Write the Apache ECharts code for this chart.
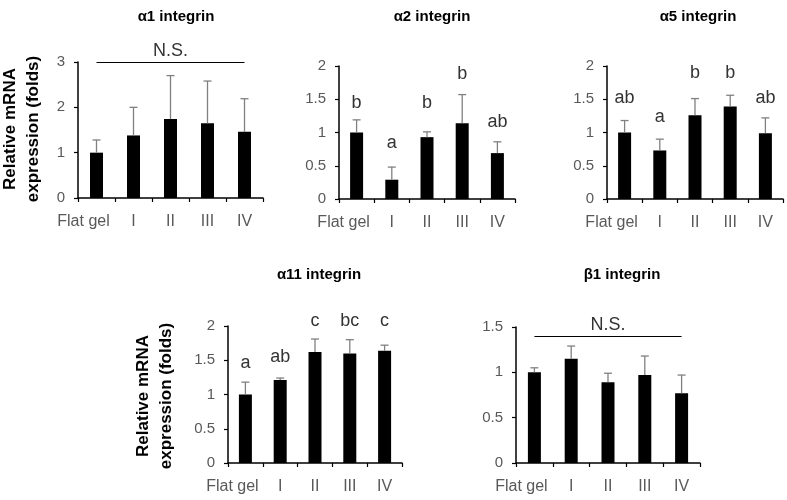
<!DOCTYPE html>
<html><head><meta charset="utf-8">
<script src="https://cdn.jsdelivr.net/npm/echarts@6/dist/echarts.min.js"></script>
<style>html,body{margin:0;padding:0;background:#fff}#c{width:787px;height:500px}</style>
</head><body><div id="c"></div>
<script>
var categories = ['Flat gel', 'I', 'II', 'III', 'IV'];
var titles = ['α1 integrin', 'α2 integrin', 'α5 integrin', 'α11 integrin', 'β1 integrin'];
var a1Mean = [1.0, 1.38, 1.74, 1.65, 1.46];
var a1Err  = [1.28, 2.0, 2.7, 2.58, 2.19];
var a2Mean = [1.0, 0.29, 0.93, 1.14, 0.69];
var a2Err  = [1.19, 0.48, 1.01, 1.57, 0.86];
var a2Letters = ['b', 'a', 'b', 'b', 'ab'];
var a2LetterY = [1.44, 0.84, 1.44, 1.88, 1.16];
var a5Mean = [1.0, 0.73, 1.26, 1.39, 0.99];
var a5Err  = [1.18, 0.9, 1.51, 1.56, 1.22];
var a5Letters = ['ab', 'a', 'b', 'b', 'ab'];
var a5LetterY = [1.52, 1.23, 1.89, 1.89, 1.52];
var a11Mean = [1.0, 1.21, 1.62, 1.6, 1.64];
var a11Err  = [1.18, 1.24, 1.81, 1.8, 1.72];
var a11Letters = ['a', 'ab', 'c', 'bc', 'c'];
var a11LetterY = [1.46, 1.55, 2.07, 2.07, 2.07];
var b1Mean = [1.0, 1.15, 0.89, 0.97, 0.77];
var b1Err  = [1.05, 1.29, 0.99, 1.18, 0.97];
var yMax = [3, 2, 2, 2, 1.5];
var yInterval = [1, 0.5, 0.5, 0.5, 0.5];
var nsLevel = [3, null, null, null, 1.4];

var means = [a1Mean, a2Mean, a5Mean, a11Mean, b1Mean];
var errs = [a1Err, a2Err, a5Err, a11Err, b1Err];
var letters = [null, a2Letters, a5Letters, a11Letters, null];
var letterY = [null, a2LetterY, a5LetterY, a11LetterY, null];

var grids = [
  {left: 78, top: 62, width: 185, height: 136},
  {left: 339, top: 66, width: 176, height: 133},
  {left: 607, top: 66, width: 176, height: 133},
  {left: 228, top: 326, width: 174, height: 137},
  {left: 516, top: 327, width: 184, height: 136}
];
var titlePos = [[171, 4], [427, 4], [693, 4], [314, 262], [617, 262]];
var FONT = '"Liberation Sans", Arial, sans-serif';
var tickColor = '#595959';

var catData = categories.map(function (c, k) {
  return k === 0 ? {value: c, textStyle: {padding: [0, 26, 0, 0]}} : c;
});

var option = {
  animation: false,
  title: titles.map(function (t, i) {
    return {text: t, left: titlePos[i][0], top: titlePos[i][1], textAlign: 'center',
      textStyle: {fontFamily: FONT, fontSize: 15, fontWeight: 'bold', color: '#000'}};
  }),
  grid: grids,
  xAxis: grids.map(function (g, i) {
    return {type: 'category', gridIndex: i, data: catData,
      axisLine: {lineStyle: {color: '#000', width: 1.5}},
      axisTick: {show: true, length: 4, lineStyle: {color: '#000', width: 1.2}},
      axisLabel: {interval: 0, color: tickColor, fontFamily: FONT, fontSize: 16, margin: 16}};
  }),
  yAxis: grids.map(function (g, i) {
    return {type: 'value', gridIndex: i, min: 0, max: yMax[i], interval: yInterval[i],
      splitLine: {show: false},
      axisLine: {show: true, lineStyle: {color: '#000', width: 1.5}},
      axisTick: {show: true, length: 4, lineStyle: {color: '#000', width: 1.2}},
      axisLabel: {color: tickColor, fontFamily: FONT, fontSize: 15, margin: 13}};
  }),
  graphic: [
    {type: 'text', x: 21.5, y: 129, rotation: Math.PI / 2,
      style: {text: 'Relative mRNA\nexpression (folds)', font: 'bold 17px ' + FONT, fill: '#000',
        align: 'center', verticalAlign: 'middle', lineHeight: 23}},
    {type: 'text', x: 154.5, y: 396, rotation: Math.PI / 2,
      style: {text: 'Relative mRNA\nexpression (folds)', font: 'bold 17px ' + FONT, fill: '#000',
        align: 'center', verticalAlign: 'middle', lineHeight: 23}}
  ],
  series: []
};

means.forEach(function (m, i) {
  var s = {type: 'bar', xAxisIndex: i, yAxisIndex: i, data: m, barWidth: 13,
    itemStyle: {color: '#000'}, z: 2};
  if (nsLevel[i] != null) {
    s.markLine = {symbol: 'none', silent: true,
      lineStyle: {color: '#000', width: 1, type: 'solid'},
      label: {show: true, position: 'middle', formatter: 'N.S.', color: '#333',
        fontFamily: FONT, fontSize: 18, distance: 2},
      data: [[{coord: [0, nsLevel[i]]}, {coord: [4, nsLevel[i]]}]]};
  }
  option.series.push(s);
  option.series.push({type: 'custom', xAxisIndex: i, yAxisIndex: i, z: 3,
    data: m.map(function (v, k) { return [k, v, errs[i][k]]; }),
    renderItem: function (params, api) {
      var p0 = api.coord([api.value(0), api.value(1)]);
      var p1 = api.coord([api.value(0), api.value(2)]);
      var st = {stroke: '#808080', lineWidth: 1.3};
      return {type: 'group', children: [
        {type: 'line', shape: {x1: p0[0], y1: p0[1], x2: p1[0], y2: p1[1]}, style: st},
        {type: 'line', shape: {x1: p1[0] - 4, y1: p1[1], x2: p1[0] + 4, y2: p1[1]}, style: st}
      ]};
    }});
  if (letters[i]) {
    option.series.push({type: 'custom', xAxisIndex: i, yAxisIndex: i, z: 4,
      data: letters[i].map(function (t, k) { return [k, letterY[i][k], t]; }),
      renderItem: function (params, api) {
        var p = api.coord([api.value(0), api.value(1)]);
        return {type: 'text', x: p[0], y: p[1],
          style: {text: letters[i][params.dataIndex], font: '18px ' + FONT, fill: '#333',
            align: 'center', verticalAlign: 'middle'}};
      }});
  }
});

var chart = echarts.init(document.getElementById('c'), null, {renderer: 'canvas'});
chart.setOption(option);
</script></body></html>
